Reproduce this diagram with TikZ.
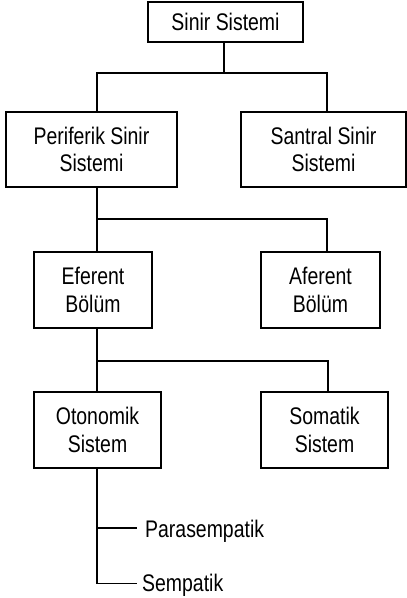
\documentclass[tikz,border=0pt]{standalone}
\usepackage{fontspec}
\setmainfont{Liberation Sans}[FakeStretch=0.81]
\begin{document}
\begin{tikzpicture}[x=1pt,y=-1pt,
  box/.style={draw=black,line width=1.8pt,inner sep=0pt,align=center,
    font=\fontsize{24}{27.5}\selectfont},
  conn/.style={draw=black,line width=1.8pt},
  leaf/.style={inner sep=0pt,font=\fontsize{24}{27.5}\selectfont}]
\useasboundingbox (0,0) rectangle (407,598);
\node[box,minimum width=155pt,minimum height=40pt] (top) at (225.5,22) {Sinir Sistemi};
\node[box,minimum width=171pt,minimum height=75pt] (peri) at (91.5,149.5) {Periferik Sinir\\Sistemi};
\node[box,minimum width=165pt,minimum height=75pt] (sant) at (323.5,149.5) {Santral Sinir\\Sistemi};
\node[box,minimum width=118pt,minimum height=76pt] (efe) at (93,290) {Eferent\\Bölüm};
\node[box,minimum width=119pt,minimum height=76pt] (afe) at (320.5,290) {Aferent\\Bölüm};
\node[box,minimum width=127pt,minimum height=76pt] (oto) at (97.5,430) {Otonomik\\Sistem};
\node[box,minimum width=127pt,minimum height=76pt] (som) at (324.5,430) {Somatik\\Sistem};
\node[leaf,anchor=base west] (para) at (145,537) {Parasempatik};
\node[leaf,anchor=base west] (semp) at (142,591.5) {Sempatik};
% bus coordinates
\coordinate (b1l) at (97,73);
\coordinate (b1r) at (327,73);
\coordinate (b2l) at (97,219);
\coordinate (b2r) at (327,219);
\coordinate (b3l) at (97,361);
\coordinate (b3r) at (328,361);
\coordinate (p1) at (97,528);
\coordinate (p1e) at (137,528);
\coordinate (p2) at (97,583.5);
\coordinate (p2e) at (137,583.5);
\draw[conn] (top.south -| 224,0) -- (224,73);
\draw[conn] (peri.north -| b1l) -- (b1l) -- (b1r) -- (sant.north -| b1r);
\draw[conn] (peri.south -| b2l) -- (efe.north -| b2l);
\draw[conn] (b2l) -- (b2r) -- (afe.north -| b2r);
\draw[conn] (efe.south -| b3l) -- (oto.north -| b3l);
\draw[conn] (b3l) -- (b3r) -- (som.north -| b3r);
\draw[conn] (oto.south -| p2) -- (p2) -- (p2e);
\draw[conn] (p1) -- (p1e);
\end{tikzpicture}
\end{document}
